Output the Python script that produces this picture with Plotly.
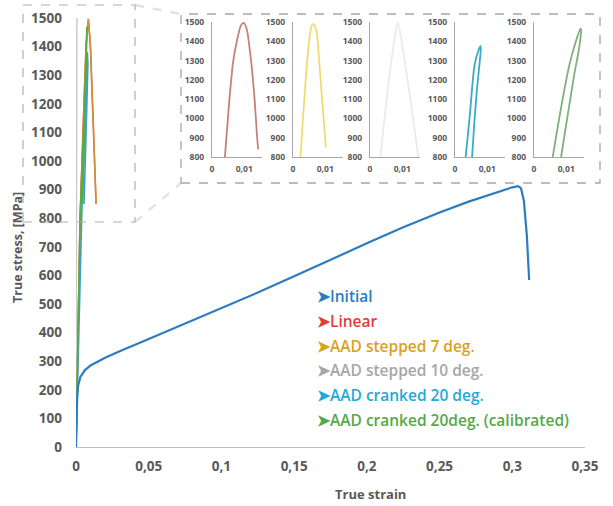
import plotly.graph_objects as go

W, H = 613, 506

# ---------------- data ----------------
initial_strain = [0, 0.0003, 0.0008, 0.0015, 0.003, 0.006, 0.01, 0.02, 0.03, 0.05, 0.075, 0.1,
                  0.125, 0.15, 0.175, 0.2, 0.225, 0.25, 0.27, 0.29, 0.3, 0.304, 0.306, 0.308, 0.31, 0.3116]
initial_stress = [0, 80, 170, 215, 245, 268, 285, 312, 335, 378, 432, 485,
                  540, 597, 655, 712, 768, 820, 858, 893, 908, 912, 905, 860, 740, 584]

linear_strain = [0, 0.0028, 0.0048, 0.0069, 0.0085, 0.0100, 0.0120, 0.0138]
linear_stress = [0, 800, 1100, 1400, 1495, 1400, 1120, 850]

step7_strain = [0, 0.0028, 0.0048, 0.0069, 0.0085, 0.0098, 0.0118, 0.0138]
step7_stress = [0, 790, 1100, 1400, 1497, 1410, 1130, 850]

step10_strain = [0, 0.0004, 0.0006]
step10_stress = [0, 800, 1500]

crank_strain = [0, 0.002, 0.0039, 0.0062, 0.0072, 0.0078, 0.0082, 0.0076, 0.0064, 0.0055]
crank_stress = [0, 420, 800, 1150, 1300, 1380, 1340, 1200, 1000, 850]

calib_strain = [0, 0.002, 0.0028, 0.0055, 0.0069, 0.0075, 0.0072, 0.006, 0.0045]
calib_stress = [0, 525, 800, 1150, 1447, 1470, 1380, 1150, 850]

# inset (zoomed) curves
lin_in_strain = [0.0040, 0.0054, 0.0066, 0.0077, 0.0089, 0.0098, 0.0108, 0.0121, 0.0132, 0.0140, 0.0143]
lin_in_stress = [800, 1100, 1300, 1400, 1480, 1495, 1460, 1300, 1100, 900, 840]

st7_in_strain = [0.0023, 0.0035, 0.0049, 0.0057, 0.0062, 0.0068, 0.0074, 0.009, 0.0102]
st7_in_stress = [800, 1100, 1390, 1475, 1490, 1480, 1440, 1100, 850]

st10_in_strain = [0.0032, 0.0055, 0.0075, 0.0086, 0.0098, 0.0125, 0.015]
st10_in_stress = [800, 1150, 1400, 1500, 1400, 1100, 800]

cr_in_strain = [0.0033, 0.0045, 0.006, 0.0072, 0.0079, 0.008, 0.0077, 0.0068, 0.006, 0.0053]
cr_in_stress = [800, 1000, 1270, 1350, 1375, 1360, 1300, 1150, 980, 800]

cal_in_strain = [0.0058, 0.0075, 0.0092, 0.011, 0.0128, 0.0144, 0.0146, 0.0139, 0.0125, 0.0112, 0.0098, 0.0084]
cal_in_stress = [800, 970, 1130, 1280, 1390, 1465, 1460, 1355, 1230, 1095, 950, 800]

# ticks
main_xtick_vals = [0, 0.05, 0.1, 0.15, 0.2, 0.25, 0.3, 0.35]
main_xtick_text = ["0", "0,05", "0,1", "0,15", "0,2", "0,25", "0,3", "0,35"]
main_ytick_vals = [0, 100, 200, 300, 400, 500, 600, 700, 800, 900, 1000, 1100, 1200, 1300, 1400, 1500]
inset_xtick_vals = [0, 0.01]
inset_xtick_text = ["0", "0,01"]
inset_ytick_vals = [800, 900, 1000, 1100, 1200, 1300, 1400, 1500]

legend_names = ["Initial", "Linear", "AAD stepped 7 deg.", "AAD stepped 10 deg.",
                "AAD cranked 20 deg.", "AAD cranked 20deg. (calibrated)"]
legend_colors = ["#2e7cc0", "#e23b36", "#d9a21b", "#a6a6a6", "#1eaad8", "#55a84a"]

# ---------------- helpers ----------------
def fx(px):
    return px / W

def fy(py):
    return 1 - py / H

GRAY_TXT = "#595959"
fig = go.Figure()

# main traces
fig.add_trace(go.Scatter(x=step10_strain, y=step10_stress, mode="lines",
                         line=dict(color="#c9c9c9", width=1.5), xaxis="x", yaxis="y"))
fig.add_trace(go.Scatter(x=linear_strain, y=linear_stress, mode="lines",
                         line=dict(color="#d46a5a", width=1.5), xaxis="x", yaxis="y"))
fig.add_trace(go.Scatter(x=step7_strain, y=step7_stress, mode="lines",
                         line=dict(color="#d08f34", width=1.6), xaxis="x", yaxis="y"))
fig.add_trace(go.Scatter(x=crank_strain, y=crank_stress, mode="lines",
                         line=dict(color="#3a9fd0", width=1.6), xaxis="x", yaxis="y"))
fig.add_trace(go.Scatter(x=calib_strain, y=calib_stress, mode="lines",
                         line=dict(color="#5aab46", width=1.6), xaxis="x", yaxis="y"))
fig.add_trace(go.Scatter(x=initial_strain, y=initial_stress, mode="lines",
                         line=dict(color="#2e7cc0", width=2.2), xaxis="x", yaxis="y"))

# inset traces
inset_series = [
    (lin_in_strain, lin_in_stress, "#c4827c"),
    (st7_in_strain, st7_in_stress, "#f0dc6e"),
    (st10_in_strain, st10_in_stress, "#ebebeb"),
    (cr_in_strain, cr_in_stress, "#3aabc8"),
    (cal_in_strain, cal_in_stress, "#7fb07f"),
]
for i, (xs, ys, c) in enumerate(inset_series):
    k = i + 2
    fig.add_trace(go.Scatter(x=xs, y=ys, mode="lines",
                             line=dict(color=c, width=1.8, shape="spline", smoothing=0.6),
                             xaxis=f"x{k}", yaxis=f"y{k}"))

tickfont_main = dict(family="Open Sans", size=13.5, color=GRAY_TXT, weight=700)
tickfont_in = dict(family="Open Sans", size=8.5, color=GRAY_TXT, weight=700)

layout = dict(
    width=W, height=H,
    margin=dict(l=0, r=0, t=0, b=0, autoexpand=False),
    paper_bgcolor="white", plot_bgcolor="rgba(0,0,0,0)",
    showlegend=False,
    xaxis=dict(domain=[fx(76), fx(585)], range=[0, 0.35], anchor="y", automargin=False,
               showline=True, linecolor="#bfbfbf", linewidth=1, showgrid=False, zeroline=False,
               ticks="", tickvals=main_xtick_vals, ticktext=main_xtick_text,
               tickfont=tickfont_main, ticklabelstandoff=7),
    yaxis=dict(domain=[fy(447), fy(18)], range=[0, 1500], anchor="x", automargin=False,
               showline=False, showgrid=False, zeroline=False,
               ticks="", tickvals=main_ytick_vals, tickfont=tickfont_main, ticklabelstandoff=13),
)

inset_x = [(212, 262), (293, 343), (370, 420), (455, 505), (534, 584)]
for i, (a, b) in enumerate(inset_x):
    k = i + 2
    layout[f"xaxis{k}"] = dict(domain=[fx(a), fx(b)], range=[0, 0.0155], anchor=f"y{k}",
                               automargin=False,
                               showline=True, linecolor="#a6a6a6", linewidth=1.2,
                               showgrid=False, zeroline=False, ticks="",
                               tickvals=inset_xtick_vals, ticktext=inset_xtick_text,
                               tickfont=tickfont_in, ticklabelstandoff=4)
    layout[f"yaxis{k}"] = dict(domain=[fy(157), fy(22)], range=[800, 1500], anchor=f"x{k}",
                               automargin=False,
                               showline=True, linecolor="#a6a6a6", linewidth=1.2,
                               showgrid=False, zeroline=False, ticks="",
                               tickvals=inset_ytick_vals, tickfont=tickfont_in,
                               ticklabelstandoff=5)

fig.update_layout(**layout)

shapes = [
    dict(type="line", xref="paper", yref="paper", x0=fx(135), y0=fy(5), x1=fx(181), y1=fy(14),
         line=dict(color="#e2e2e2", width=2.5, dash="dash")),
    dict(type="line", xref="paper", yref="paper", x0=fx(135), y0=fy(222), x1=fx(181), y1=fy(183),
         line=dict(color="#e2e2e2", width=2.5, dash="dash")),
    dict(type="rect", xref="paper", yref="paper", x0=fx(23), x1=fx(135), y0=fy(222), y1=fy(5),
         line=dict(color="#b0b0b0", width=1.2, dash="dash")),
    dict(type="rect", xref="paper", yref="paper", x0=fx(181), x1=fx(600), y0=fy(183), y1=fy(14),
         line=dict(color="#a6a6a6", width=1.3, dash="dash")),
]
fig.update_layout(shapes=shapes)

annotations = []
for i, (name, col) in enumerate(zip(legend_names, legend_colors)):
    annotations.append(dict(xref="paper", yref="paper", x=fx(315), y=fy(296 + 24.8 * i),
                            xanchor="left", yanchor="middle", showarrow=False,
                            text="➤" + name,
                            font=dict(family="Open Sans", size=15.5, color=col, weight=600)))
annotations.append(dict(xref="paper", yref="paper", x=fx(370), y=fy(494), xanchor="center",
                        yanchor="middle", showarrow=False, text="True strain",
                        font=dict(family="Open Sans", size=13, color=GRAY_TXT, weight=700)))
annotations.append(dict(xref="paper", yref="paper", x=fx(17), y=fy(248), xanchor="center",
                        yanchor="middle", showarrow=False, text="True stress, [MPa]", textangle=-90,
                        font=dict(family="Open Sans", size=12.5, color=GRAY_TXT, weight=700)))
fig.update_layout(annotations=annotations)

fig.write_html("out.html", post_script="document.body.style.margin='0';",
               config={"displayModeBar": False})
